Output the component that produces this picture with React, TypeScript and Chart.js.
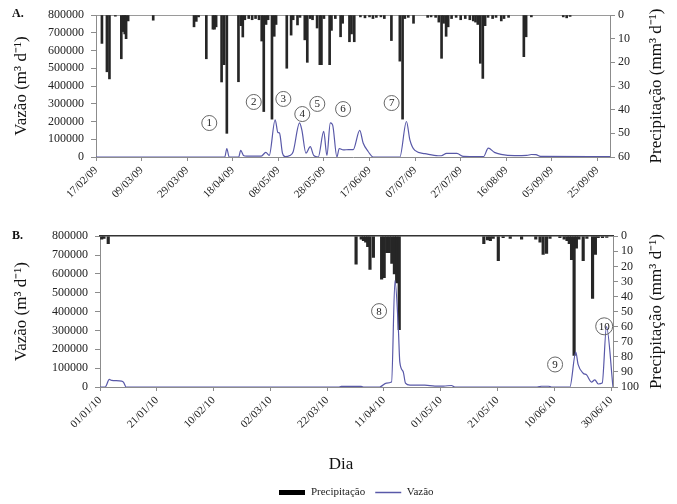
import React, { useEffect, useRef } from 'react';
import { Chart, registerables } from 'chart.js';

Chart.register(...registerables);

const FONT = '"Liberation Serif", "Times New Roman", serif';
const BAR_COLOR = '#262626';
const LINE_COLOR = '#5858a8';
const AXIS_COLOR = '#8c8c8c';
const TEXT_COLOR = '#222';

// ---------- Panel A (2009) ----------
const tickLabelsA = ['17/02/09', '09/03/09', '29/03/09', '18/04/09', '08/05/09', '28/05/09', '17/06/09', '07/07/09', '27/07/09', '16/08/09', '05/09/09', '25/09/09'];
// day index counted from 17/02/09
const precipDaysA = [
  2.6, 4.8, 5.9, 8.5, 11.1, 12, 12.6, 13.2, 14.1, 25.1,
  43, 44, 45, 48.4, 51.3, 52, 52.7, 55.1, 56.2, 57.4,
  62.5, 63.6, 64.4, 65.3, 67, 68.5, 70, 71.5, 72.7, 73.6,
  74.6, 75.5, 77.2, 78.2, 79, 83.7, 85.6, 86.5, 88.4, 89.5,
  91.6, 92.7, 94, 95, 97, 98.2, 98.9, 100, 102.5, 103.3,
  105, 107.3, 108.2, 111.2, 112.1, 113.3, 116, 118, 120, 121.5,
  123, 125, 126.5, 129.6, 133.3, 134.5, 135.5, 137, 139.3, 145.5,
  147, 149, 150.4, 151.6, 152.5, 153.6, 154.5, 156, 158, 160,
  162, 164, 165.5, 166.5, 167.5, 168.6, 169.7, 170.7, 172, 174,
  175.5, 177.8, 179, 181, 187.7, 188.7, 191, 205, 206.5, 208,
];
const precipA = [
  12, 24, 27, 0.5, 18.5, 7, 8, 10, 2.5, 2.2,
  5, 2.7, 0.8, 18.5, 6, 6, 5, 28.3, 21, 50,
  28.2, 4.5, 9.3, 2, 1.5, 2, 1.5, 2, 11, 40.8,
  4, 2, 44, 9, 4, 22.5, 8.5, 2, 4.2, 1,
  10.5, 20, 1.5, 2, 5.5, 21, 21, 1.5, 21, 6.5,
  1.5, 9.2, 3.5, 11.3, 8, 11.3, 0.8, 1.2, 0.8, 1.5,
  1, 0.8, 1.5, 10.8, 19.5, 44, 1.5, 1, 3.5, 1,
  0.8, 1, 3, 18.3, 3.5, 9, 5, 1.5, 1, 2,
  1.5, 2, 2.5, 3, 4, 20.4, 26.8, 4.5, 1, 1.5,
  1, 2.5, 1.5, 1, 17.6, 9.2, 0.8, 0.8, 1.2, 0.6,
];
const flowDaysA = [
  0, 56.5, 57.4, 58.4, 62.6, 63.5, 64.7, 66, 72.5, 74.5,
  76, 78.6, 79.8, 80.5, 81.8, 83, 85, 86.5, 89.3, 90.3,
  92.1, 94, 95.5, 97.5, 99.9, 101.3, 102.8, 103.8, 105.7, 106.7,
  108.5, 110.9, 112.8, 115.7, 117.2, 119.4, 121.6, 133.3, 136.2, 137.7,
  139.9, 144.3, 150.1, 151.5, 153.8, 158.3, 161.2, 168, 170, 172.1,
  174.8, 177.7, 183.6, 189, 191, 193, 195, 225.5,
];
const flowA = [
  0, 0, 48000, 0, 0, 37000, 9000, 5000, 5000, 26000,
  9000, 210000, 138000, 135000, 22000, 2000, 8000, 30000, 192000, 153000,
  22000, 58000, 9000, 0, 144000, 9000, 192000, 181000, 0, 48000,
  40000, 42000, 41000, 150000, 79000, 31000, 0, 0, 200000, 97000,
  37000, 19000, 7000, 7000, 20000, 20000, 3000, 2000, 2000, 50000,
  26000, 15000, 8000, 9000, 14000, 13000, 3000, 2000,
];
const eventNumsA = ['1', '2', '3', '4', '5', '6', '7'];
const eventDaysA = [49.7, 69.2, 82.2, 90.5, 97.1, 108.4, 129.7];
const eventFlowA = [191500, 310000, 327000, 242000, 299000, 270000, 304000];

// ---------- Panel B (2010) ----------
const tickLabelsB = ['01/01/10', '21/01/10', '10/02/10', '02/03/10', '22/03/10', '11/04/10', '01/05/10', '21/05/10', '10/06/10', '30/06/10'];
// day index counted from 01/01/10
const precipDaysB = [
  0.6, 1.4, 2.9, 90.2, 92, 92.8, 93.6, 94.3, 95.1, 96.3,
  99.2, 100.1, 101, 101.9, 102.8, 103.7, 104.5, 105.4, 135.2, 136.5,
  137.5, 138.5, 140.3, 142, 144.5, 148.5, 153.5, 155, 156.1, 157.3,
  158.5, 162, 163.5, 164.5, 165.3, 166.1, 167, 167.8, 168.7, 170.2,
  171.5, 173.5, 174.5, 175.5, 177, 178.5,
];
const precipB = [
  2, 1.5, 5, 18.5, 2, 3, 4, 7, 22, 14,
  28.5, 27.5, 11, 11, 18, 25, 31, 62, 5, 2.5,
  3, 1.5, 16.2, 1, 1.5, 2, 2, 4, 12, 11.5,
  1.5, 1, 2, 3, 5, 15.5, 79, 8, 2, 16.2,
  1.5, 41.2, 12, 1, 1, 0.8,
];
const flowDaysB = [
  0, 1.8, 3.3, 4.1, 7.6, 8.3, 9.2, 84, 85, 92,
  93, 98.5, 100.9, 102.7, 103.9, 105.1, 105.6, 106.8, 107.6, 109.2,
  114.4, 118, 121, 123.8, 125, 154, 155.5, 158, 159, 165.5,
  167.6, 168.4, 170.2, 171.4, 173.1, 174.3, 175.5, 176.9, 178.4, 180.7,
];
const flowB = [
  0, 0, 40000, 35000, 31000, 25000, 0, 0, 3000, 3000,
  0, 0, 21000, 26000, 565000, 306000, 133000, 81000, 21000, 10000,
  10000, 5000, 5000, 8000, 0, 0, 4000, 4000, 0, 0,
  185000, 120000, 73000, 64000, 26000, 38000, 16000, 21000, 320000, 0,
];
const eventNumsB = ['8', '9', '10'];
const eventDaysB = [98.3, 160.3, 177.6];
const eventFlowB = [402600, 119500, 322000];

type Panel = {
  letter: string;
  tickLabels: string[];
  xMax: number;
  precipDays: number[];
  precip: number[];
  precipMax: number;
  flowDays: number[];
  flow: number[];
  eventNums: string[];
  eventDays: number[];
  eventFlow: number[];
  barW: number;
  padTop: number;
  leftW: number;
  rightW: number;
  xH: number;
  topBorder: any;
  legend: boolean;
  bottomTitle?: string;
};

const panelA: Panel = {
  letter: 'A.', tickLabels: tickLabelsA, xMax: 225.5,
  precipDays: precipDaysA, precip: precipA, precipMax: 60,
  flowDays: flowDaysA, flow: flowA,
  eventNums: eventNumsA, eventDays: eventDaysA, eventFlow: eventFlowA,
  barW: 2, padTop: 15, leftW: 96, rightW: 67, xH: 65,
  topBorder: { color: '#9a9a9a', width: 1 },
  legend: false,
};
const panelB: Panel = {
  letter: 'B.', tickLabels: tickLabelsB, xMax: 180.7,
  precipDays: precipDaysB, precip: precipB, precipMax: 100,
  flowDays: flowDaysB, flow: flowB,
  eventNums: eventNumsB, eventDays: eventDaysB, eventFlow: eventFlowB,
  barW: 2.5, padTop: 11, leftW: 100, rightW: 64, xH: 90,
  topBorder: { color: '#333', width: 1.5, dash: [2, 1] },
  legend: true,
  bottomTitle: 'Dia',
};

function makeDecor(p: Panel) {
  return {
    id: 'decor',
    afterDatasetsDraw(chart: any) {
      const { ctx } = chart;
      const xs = chart.scales.x;
      const ys = chart.scales.y;
      ctx.save();
      p.eventNums.forEach((n, i) => {
        const px = xs.getPixelForValue(p.eventDays[i]);
        const py = ys.getPixelForValue(p.eventFlow[i]);
        ctx.beginPath();
        ctx.arc(px, py, n.length > 1 ? 8.5 : 7.5, 0, Math.PI * 2);
        ctx.strokeStyle = '#666';
        ctx.lineWidth = 1;
        ctx.stroke();
        ctx.fillStyle = TEXT_COLOR;
        ctx.font = `11px ${FONT}`;
        ctx.textAlign = 'center';
        ctx.textBaseline = 'middle';
        ctx.fillText(n, px, py + 0.5);
      });
      ctx.restore();
    },
    afterDraw(chart: any) {
      const { ctx, chartArea } = chart;
      ctx.save();
      ctx.fillStyle = '#111';
      ctx.font = `bold 12px ${FONT}`;
      ctx.textAlign = 'left';
      ctx.textBaseline = 'alphabetic';
      ctx.fillText(p.letter, 12, 17);
      // right axis title, reading bottom to top
      ctx.save();
      ctx.translate(657, (chartArea.top + chartArea.bottom) / 2);
      ctx.rotate(-Math.PI / 2);
      ctx.font = `17px ${FONT}`;
      ctx.textAlign = 'center';
      ctx.textBaseline = 'middle';
      ctx.fillText('Precipitação (mm³ d⁻¹)', 0, 0);
      ctx.restore();
      if (p.bottomTitle) {
        ctx.font = `17px ${FONT}`;
        ctx.textAlign = 'center';
        ctx.textBaseline = 'middle';
        ctx.fillText(p.bottomTitle, 341, 243);
      }
      ctx.restore();
    },
  };
}

function legendIcon(w: number, h: number, color: string) {
  const c = document.createElement('canvas');
  c.width = w;
  c.height = h;
  const g = c.getContext('2d')!;
  g.fillStyle = color;
  g.fillRect(0, 0, w, h);
  return c;
}

function buildConfig(p: Panel): any {
  const tickFont = { family: FONT, size: 12 };
  const precipIcon = legendIcon(26, 5, '#000');
  return {
    type: 'bar',
    data: {
      datasets: [
        {
          type: 'bar',
          label: 'Precipitação',
          data: p.precipDays.map((d, i) => ({ x: d, y: p.precip[i] })),
          backgroundColor: BAR_COLOR,
          borderWidth: 0,
          barThickness: p.barW,
          xAxisID: 'x',
          yAxisID: 'y1',
          order: 2,
        },
        {
          type: 'line',
          label: 'Vazão',
          data: p.flowDays.map((d, i) => ({ x: d, y: p.flow[i] })),
          borderColor: LINE_COLOR,
          backgroundColor: LINE_COLOR,
          borderWidth: 1.2,
          pointRadius: 0,
          fill: false,
          cubicInterpolationMode: 'monotone',
          xAxisID: 'x',
          yAxisID: 'y',
          order: 1,
        },
      ],
    },
    options: {
      responsive: false,
      animation: false,
      devicePixelRatio: 1,
      events: [],
      layout: { padding: { top: p.padTop, left: 0, right: 0, bottom: 0 } },
      plugins: {
        tooltip: { enabled: false },
        title: { display: false },
        legend: p.legend
          ? {
              display: true,
              position: 'bottom',
              fullSize: false,
              labels: {
                usePointStyle: true,
                pointStyleWidth: 26,
                padding: 10,
                color: TEXT_COLOR,
                font: { family: FONT, size: 11 },
                generateLabels: (chart: any) => [
                  {
                    text: chart.data.datasets[0].label,
                    pointStyle: precipIcon,
                    fillStyle: '#000',
                    strokeStyle: '#000',
                    lineWidth: 1,
                    hidden: false,
                    datasetIndex: 0,
                    fontColor: TEXT_COLOR,
                  },
                  {
                    text: chart.data.datasets[1].label,
                    pointStyle: 'line',
                    fillStyle: LINE_COLOR,
                    strokeStyle: LINE_COLOR,
                    lineWidth: 1.5,
                    hidden: false,
                    datasetIndex: 1,
                    fontColor: TEXT_COLOR,
                  },
                ],
              },
            }
          : { display: false },
      },
      scales: {
        x: {
          type: 'linear',
          position: 'bottom',
          min: 0,
          max: p.xMax,
          offset: false,
          afterBuildTicks: (s: any) => {
            s.ticks = p.tickLabels.map((_, i) => ({ value: i * 20 }));
          },
          afterFit: (s: any) => {
            s.height = p.xH;
          },
          ticks: {
            autoSkip: false,
            minRotation: 45,
            maxRotation: 45,
            padding: 3,
            color: TEXT_COLOR,
            font: { family: FONT, size: 11 },
            callback: (_v: any, i: number) => p.tickLabels[i] ?? '',
          },
          grid: { drawOnChartArea: false, offset: false, tickLength: 4, color: AXIS_COLOR },
          border: { color: AXIS_COLOR, width: 1 },
        },
        xTop: {
          type: 'linear',
          position: 'top',
          min: 0,
          max: p.xMax,
          offset: false,
          afterFit: (s: any) => {
            s.height = 0;
          },
          ticks: { display: false },
          grid: { display: false, drawTicks: false },
          border: p.topBorder,
        },
        y: {
          type: 'linear',
          position: 'left',
          min: 0,
          max: 800000,
          afterFit: (s: any) => {
            s.width = p.leftW;
          },
          ticks: {
            stepSize: 100000,
            autoSkip: false,
            padding: 7,
            color: TEXT_COLOR,
            font: tickFont,
            callback: (v: any) => String(v),
          },
          grid: { drawOnChartArea: false, tickLength: 5, color: AXIS_COLOR },
          border: { color: AXIS_COLOR, width: 1 },
          title: {
            display: true,
            text: 'Vazão (m³ d⁻¹)',
            color: '#111',
            font: { family: FONT, size: 17 },
            padding: { top: 11, bottom: 0 },
          },
        },
        y1: {
          type: 'linear',
          position: 'right',
          reverse: true,
          min: 0,
          max: p.precipMax,
          afterFit: (s: any) => {
            s.width = p.rightW;
          },
          ticks: {
            stepSize: 10,
            autoSkip: false,
            padding: 3,
            color: TEXT_COLOR,
            font: tickFont,
          },
          grid: { drawOnChartArea: false, tickLength: 5, color: AXIS_COLOR },
          border: { color: AXIS_COLOR, width: 1 },
        },
      },
    },
    plugins: [makeDecor(p)],
  };
}

function PanelChart({ panel, top, height }: { panel: Panel; top: number; height: number }) {
  const ref = useRef<HTMLCanvasElement>(null);
  useEffect(() => {
    const chart = new Chart(ref.current as HTMLCanvasElement, buildConfig(panel));
    return () => chart.destroy();
  }, [panel]);
  return (
    <div style={{ position: 'absolute', left: 0, top, width: 677, height }}>
      <canvas ref={ref} width={677} height={height} style={{ display: 'block' }} />
    </div>
  );
}

export default function App() {
  return (
    <div
      style={{
        position: 'fixed',
        left: 0,
        top: 0,
        width: 677,
        height: 504,
        overflow: 'hidden',
        background: '#fff',
      }}
    >
      <PanelChart panel={panelA} top={0} height={222} />
      <PanelChart panel={panelB} top={222} height={286} />
    </div>
  );
}
